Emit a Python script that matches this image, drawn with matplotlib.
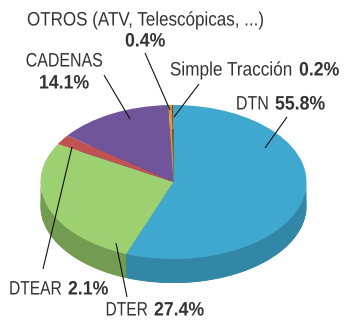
import matplotlib
matplotlib.use("Agg")
import matplotlib.pyplot as plt
import matplotlib.patheffects as pe
from matplotlib.transforms import Affine2D
import numpy as np

plt.rcParams["font.family"] = ["Liberation Sans", "DejaVu Sans"]

W, H = 352, 320
CX, CY = 173.5, 182
RX, RY = 133, 77
DEPTH = 24

TEXT_COLOR = "#333333"

names = ["DTN", "DTER", "DTEAR", "CADENAS", "OTROS (ATV, Telescópicas, ...)", "Simple Tracción"]
shares = [55.8, 27.4, 2.1, 14.1, 0.4, 0.2]
top_colors = ["#40a8cf", "#9dd070", "#c15252", "#70559b", "#d9963e", "#5a4a35"]
side_colors = ["#3287a7", "#739b52", "#9a4242", "#5a447c", "#ad7832", "#483b2a"]

# label layout in image pixels, same order as names
name_x = [269, 148, 35.5, 103, 27, 293]
name_ha = ["right", "right", "center", "right", "left", "right"]
name_y = [105, 311, 290, 62, 21, 71]
name_squeeze = [0.825, 0.80, 0.80, 0.82, 0.875, 0.885]
share_left = [275, 154, 68, 39, 125, 299]
share_y = [105, 311, 290, 84, 42, 71]
leaders = [
    ((287, 117), (265, 148)),
    ((116, 243), (127, 297)),
    ((72, 147), (43, 269)),
    ((104, 75), (130, 119)),
    ((145, 53), (170, 110)),
    ((199, 84), (174, 117)),
]


class Condense(pe.AbstractPathEffect):
    # no narrow font installed, so squeeze glyphs sideways around the text's anchor
    def __init__(self, x0, factor):
        super().__init__()
        self.x0 = x0
        self.factor = factor

    def draw_path(self, renderer, gc, tpath, affine, rgbFace=None):
        squeeze = Affine2D().translate(-self.x0, 0).scale(self.factor, 1).translate(self.x0, 0)
        renderer.draw_path(gc, tpath, affine + squeeze, rgbFace)


fig = plt.figure(figsize=(W / 100, H / 100), dpi=100, facecolor="white")

# unit pie squashed into an ellipse by unequal axis limits
ax = fig.add_axes([0, 0, 1, 1])
drop = DEPTH / RY
ax.pie(shares, colors=side_colors, startangle=90, counterclock=False, center=(0, -drop))
wedges, _ = ax.pie(shares, colors=top_colors, startangle=90, counterclock=False,
                   wedgeprops={"zorder": 3})
for w, c in zip(wedges, side_colors):
    lo, hi = max(w.theta1, -180), min(w.theta2, 0)
    if hi <= lo:
        continue
    t = np.radians(np.linspace(lo, hi, 80))
    xs = np.cos(t)
    ys = np.sin(t)
    ax.fill(np.r_[xs, xs[::-1]], np.r_[ys, ys[::-1] - drop], color=c, lw=0, zorder=2)
ax.set_aspect("auto")
ax.set_xlim(-CX / RX, (W - CX) / RX)
ax.set_ylim(-(H - CY) / RY, CY / RY)
ax.axis("off")

# overlay in image pixels for the labels and leader lines
ov = fig.add_axes([0, 0, 1, 1])
ov.set_xlim(0, W)
ov.set_ylim(H, 0)
ov.axis("off")
ov.patch.set_alpha(0)

for a, b in leaders:
    ov.plot([a[0], b[0]], [a[1], b[1]], color="#111111", lw=0.8, solid_capstyle="butt")
for i, s in enumerate(names):
    ov.text(name_x[i], name_y[i], s, fontsize=14, color=TEXT_COLOR, ha=name_ha[i], va="center",
            path_effects=[Condense(name_x[i], name_squeeze[i])])
    ov.text(share_left[i], share_y[i], f"{shares[i]}%", fontsize=14, color=TEXT_COLOR,
            ha="left", va="center", fontweight="bold",
            path_effects=[Condense(share_left[i], 0.91)])

fig.savefig("out.png", dpi=100, facecolor="white")
